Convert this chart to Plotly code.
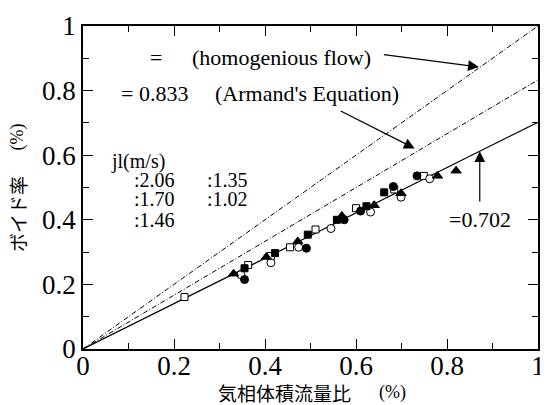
import plotly.graph_objects as go

# ---- data ----
fc_x = [0.355, 0.491, 0.574, 0.610, 0.682, 0.734]
fc_y = [0.215, 0.312, 0.400, 0.427, 0.503, 0.536]
oc_x = [0.347, 0.413, 0.474, 0.545, 0.632, 0.699, 0.762]
oc_y = [0.230, 0.267, 0.315, 0.373, 0.424, 0.470, 0.527]
fs_x = [0.355, 0.422, 0.494, 0.558, 0.623, 0.662]
fs_y = [0.250, 0.297, 0.354, 0.400, 0.442, 0.485]
os_x = [0.223, 0.363, 0.413, 0.455, 0.511, 0.600, 0.684, 0.749]
os_y = [0.161, 0.260, 0.288, 0.315, 0.370, 0.436, 0.494, 0.536]
ft_x = [0.331, 0.403, 0.472, 0.569, 0.640, 0.699, 0.779, 0.820]
ft_y = [0.233, 0.285, 0.333, 0.412, 0.445, 0.482, 0.536, 0.552]

line_x = [0.0, 1.0]
slope_homog = 1.0
slope_armand = 0.833
slope_fit = 0.702

tick_vals = [0, 0.2, 0.4, 0.6, 0.8, 1]
tick_text = ["0", "0.2", "0.4", "0.6", "0.8", "1"]

SERIF = "Liberation Serif"
JP = "Noto Sans CJK JP"

fig = go.Figure()

dash_pat = "5px,2px,1px,2px"
fig.add_trace(go.Scatter(x=line_x, y=[slope_homog * v for v in line_x], mode="lines",
                         line=dict(color="black", width=1, dash=dash_pat), showlegend=False))
fig.add_trace(go.Scatter(x=line_x, y=[slope_armand * v for v in line_x], mode="lines",
                         line=dict(color="black", width=1, dash=dash_pat), showlegend=False))
fig.add_trace(go.Scatter(x=line_x, y=[slope_fit * v for v in line_x], mode="lines",
                         line=dict(color="black", width=1.2), showlegend=False))

def pts(x, y, symbol, fill, size):
    fig.add_trace(go.Scatter(x=x, y=y, mode="markers", showlegend=False,
                             marker=dict(symbol=symbol, size=size, color=fill,
                                         line=dict(color="black", width=1))))

pts(os_x, os_y, "square", "white", 7)
pts(oc_x, oc_y, "circle", "white", 8)
pts(fs_x, fs_y, "square", "black", 7)
pts(ft_x, ft_y, "triangle-up", "black", 9)
pts(fc_x, fc_y, "circle", "black", 8)

def txt(x, y, s, size=22, anchor="left"):
    fig.add_annotation(x=x, y=y, xref="x", yref="y", text=s, showarrow=False,
                       xanchor=anchor, yanchor="middle",
                       font=dict(family=SERIF, size=size, color="black"))

txt(0.160, 0.903, "=", anchor="center")
txt(0.236, 0.903, "(homogenious flow)")
txt(0.080, 0.791, "= 0.833")
txt(0.286, 0.791, "(Armand's Equation)")
txt(0.801, 0.400, "=0.702")

txt(0.058, 0.582, "jl(m/s)", size=20)
txt(0.108, 0.524, ":2.06", size=20)
txt(0.268, 0.524, ":1.35", size=20)
txt(0.108, 0.464, ":1.70", size=20)
txt(0.268, 0.464, ":1.02", size=20)
txt(0.108, 0.400, ":1.46", size=20)

def arrow(x, y, ax, ay):
    fig.add_annotation(x=x, y=y, ax=ax, ay=ay, xref="x", yref="y", axref="x", ayref="y",
                       text="", showarrow=True, arrowhead=2, arrowsize=1.8,
                       arrowwidth=1.2, arrowcolor="black")

arrow(0.870, 0.873, 0.658, 0.912)
arrow(0.729, 0.621, 0.563, 0.739)
arrow(0.872, 0.612, 0.872, 0.452)

# axis titles (split into Japanese part and unit part)
def title(x, y, s, family, size, angle=0):
    fig.add_annotation(x=x, y=y, xref="paper", yref="paper", showarrow=False,
                       xanchor="center", yanchor="middle", textangle=angle, text=s,
                       font=dict(family=family, size=size, color="black"))

title(0.443, -0.136, "気相体積流量比", JP, 19)
title(0.680, -0.136, "(%)", SERIF, 18)
title(-0.143, 0.418, "ボイド率", JP, 19, -90)
title(-0.143, 0.658, "(%)", SERIF, 18, -90)

axis_common = dict(range=[0, 1], tickvals=tick_vals, ticktext=tick_text,
                   ticks="inside", ticklen=10, tickwidth=1, tickcolor="black",
                   showline=True, linecolor="black", linewidth=1.5, mirror="ticks",
                   showgrid=False, zeroline=False, ticklabeloverflow="allow",
                   tickfont=dict(family=SERIF, size=27, color="black"),
                   minor=dict(dtick=0.1, ticks="inside", ticklen=6, tickwidth=1,
                              tickcolor="black", showgrid=False))

fig.update_xaxes(**axis_common, ticklabelstandoff=-8)
fig.update_yaxes(**axis_common)

# page body has an 8px margin: shrink figure so plot area lands as in the reference
fig.update_layout(width=540, height=397, margin=dict(l=75, r=3, t=11, b=56),
                  plot_bgcolor="white", paper_bgcolor="white", showlegend=False)

fig.write_html("out.html")
